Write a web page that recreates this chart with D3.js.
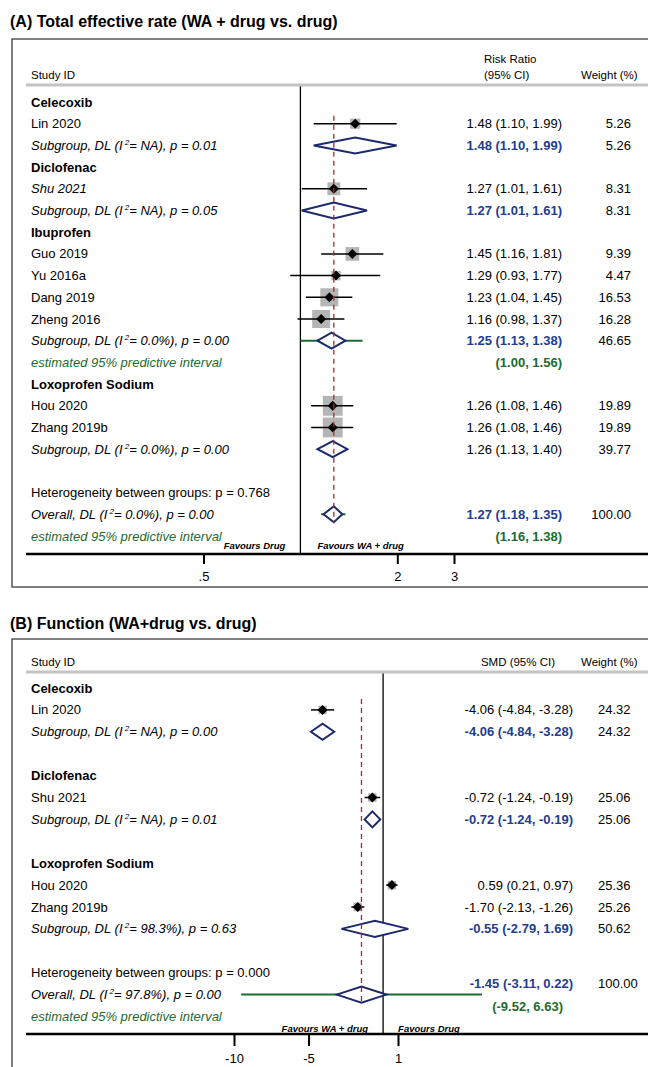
<!DOCTYPE html>
<html>
<head>
<meta charset="utf-8">
<script src="https://cdn.jsdelivr.net/npm/d3@7/dist/d3.min.js"></script>
<style>
  body { margin: 0; background: #fff; }
  svg { display: block; font-family: "Liberation Sans", Arial, Helvetica, sans-serif; }
</style>
</head>
<body>
<script>
// ---------- Panel A: total effective rate (risk ratio, log scale) ----------
const groupsA = ["Celecoxib", "Diclofenac", "Ibuprofen", "Loxoprofen Sodium"];
const studiesA = ["Lin 2020", "Shu 2021", "Guo 2019", "Yu 2016a", "Dang 2019", "Zheng 2016", "Hou 2020", "Zhang 2019b"];
const studyGroupA = [0, 1, 2, 2, 2, 2, 3, 3];
const rrA = [1.48, 1.27, 1.45, 1.29, 1.23, 1.16, 1.26, 1.26];
const rrLowA = [1.10, 1.01, 1.16, 0.93, 1.04, 0.98, 1.08, 1.08];
const rrHighA = [1.99, 1.61, 1.81, 1.77, 1.45, 1.37, 1.46, 1.46];
const weightA = [5.26, 8.31, 9.39, 4.47, 16.53, 16.28, 19.89, 19.89];
const subRrA = [1.48, 1.27, 1.25, 1.26];
const subLowA = [1.10, 1.01, 1.13, 1.13];
const subHighA = [1.99, 1.61, 1.38, 1.40];
const subWeightA = [5.26, 8.31, 46.65, 39.77];
const subI2A = ["NA", "NA", "0.0%", "0.0%"];
const subPA = ["0.01", "0.05", "0.00", "0.00"];
const subPredA = [null, null, [1.00, 1.56], null];
const overallA = { est: 1.27, lo: 1.18, hi: 1.35, w: 100.00, i2: "0.0%", p: "0.00", het: "0.768", pred: [1.16, 1.38] };
const ticksA = [0.5, 2, 3];
const tickLabelsA = [".5", "2", "3"];

// ---------- Panel B: function (standardised mean difference) ----------
const groupsB = ["Celecoxib", "Diclofenac", "Loxoprofen Sodium"];
const studiesB = ["Lin 2020", "Shu 2021", "Hou 2020", "Zhang 2019b"];
const studyGroupB = [0, 1, 2, 2];
const smdB = [-4.06, -0.72, 0.59, -1.70];
const smdLowB = [-4.84, -1.24, 0.21, -2.13];
const smdHighB = [-3.28, -0.19, 0.97, -1.26];
const weightB = [24.32, 25.06, 25.36, 25.26];
const subSmdB = [-4.06, -0.72, -0.55];
const subLowB = [-4.84, -1.24, -2.79];
const subHighB = [-3.28, -0.19, 1.69];
const subWeightB = [24.32, 25.06, 50.62];
const subI2B = ["NA", "NA", "98.3%"];
const subPB = ["0.00", "0.01", "0.63"];
const overallB = { est: -1.45, lo: -3.11, hi: 0.22, w: 100.00, i2: "97.8%", p: "0.00", het: "0.000", pred: [-9.52, 6.63] };
const ticksB = [-10, -5, 1];
const tickLabelsB = ["-10", "-5", "1"];

// ---------- shared styling ----------
const NAVY = "#1c2a6b", BLUE = "#1f3d8f", GREEN = "#1d6b30", RED = "#b0282a";
const BOXGRAY = "#b5b5b5", FRAME = "#555", RULE = "#c4c4c4";
const FS = 13;

const svg = d3.select("body").append("svg").attr("width", 648).attr("height", 1067);

function txt(g, x, y, s, o = {}) {
  return g.append("text")
    .attr("x", x).attr("y", y + (o.size || FS) * 0.35)
    .attr("font-size", o.size || FS)
    .attr("font-weight", o.bold ? "bold" : null)
    .attr("font-style", o.italic ? "italic" : null)
    .attr("text-anchor", o.anchor || "start")
    .attr("fill", o.color || "#000")
    .text(s);
}

function i2Label(g, x, y, prefix, i2, p, o = {}) {
  const t = g.append("text")
    .attr("x", x).attr("y", y + FS * 0.35)
    .attr("font-size", FS).attr("font-style", "italic")
    .attr("fill", o.color || "#000");
  t.append("tspan").text(prefix + " (I");
  t.append("tspan").attr("dy", -5).attr("font-size", 8).text(" 2");
  t.append("tspan").attr("dy", 5).text("= " + i2 + "), p = " + p);
}

function diamond(g, x, est, lo, hi, y, h) {
  g.append("path")
    .attr("d", `M${x(lo)},${y}L${x(est)},${y - h}L${x(hi)},${y}L${x(est)},${y + h}Z`)
    .attr("fill", "#fff").attr("stroke", NAVY).attr("stroke-width", 2);
}

function studyMark(g, x, est, lo, hi, w, y, k) {
  const s = k * Math.sqrt(w);
  g.append("rect").attr("x", x(est) - s / 2).attr("y", y - s / 2)
    .attr("width", s).attr("height", s).attr("fill", BOXGRAY);
  g.append("line").attr("x1", x(lo)).attr("x2", x(hi)).attr("y1", y).attr("y2", y)
    .attr("stroke", "#000").attr("stroke-width", 1.5);
  const d = 5;
  g.append("path")
    .attr("d", `M${x(est) - d},${y}L${x(est)},${y - d}L${x(est) + d},${y}L${x(est)},${y + d}Z`)
    .attr("fill", "#000");
}

// plain hyphen for negatives, two decimals
const f2 = v => v.toFixed(2);
const ciText = (e, l, h) => `${f2(e)} (${f2(l)}, ${f2(h)})`;

// ================= Panel A =================
(function () {
  const g = svg.append("g");
  const x = d3.scaleLog().domain([0.5, 3]).range([203.5, 454]);
  const rowY = i => 102 + i * 21.7;
  const esX = 562, wX = 631, leftX = 31;

  txt(g, 10, 21, "(A) Total effective rate (WA + drug vs. drug)", { size: 16, bold: true });
  g.append("rect").attr("x", 12).attr("y", 39).attr("width", 700).attr("height", 548)
    .attr("fill", "none").attr("stroke", FRAME).attr("stroke-width", 1.5);

  txt(g, leftX, 75, "Study ID", { size: 11.5 });
  txt(g, 484, 59, "Risk Ratio", { size: 11.5 });
  txt(g, 484, 75, "(95% CI)", { size: 11.5 });
  txt(g, 581, 75, "Weight (%)", { size: 11.5 });
  g.append("line").attr("x1", 26).attr("x2", 648).attr("y1", 85).attr("y2", 85)
    .attr("stroke", RULE).attr("stroke-width", 3);

  const marks = g.append("g");
  let r = 0;
  groupsA.forEach((name, gi) => {
    txt(g, leftX, rowY(r++), name, { bold: true });
    studiesA.forEach((s, si) => {
      if (studyGroupA[si] !== gi) return;
      const y = rowY(r++);
      txt(g, leftX, y, s, { italic: s === "Shu 2021" });
      studyMark(marks, x, rrA[si], rrLowA[si], rrHighA[si], weightA[si], y, 4.45);
      txt(g, esX, y, ciText(rrA[si], rrLowA[si], rrHighA[si]), { anchor: "end" });
      txt(g, wX, y, f2(weightA[si]), { anchor: "end" });
    });
    const y = rowY(r++);
    const plain = name === "Loxoprofen Sodium";
    i2Label(g, leftX, y, "Subgroup, DL", subI2A[gi], subPA[gi]);
    if (subPredA[gi]) {
      marks.append("line").attr("x1", x(subPredA[gi][0])).attr("x2", x(subPredA[gi][1]))
        .attr("y1", y).attr("y2", y).attr("stroke", GREEN).attr("stroke-width", 2);
    }
    diamond(marks, x, subRrA[gi], subLowA[gi], subHighA[gi], y, 8);
    txt(g, esX, y, ciText(subRrA[gi], subLowA[gi], subHighA[gi]),
      { anchor: "end", bold: !plain, color: plain ? "#000" : BLUE });
    txt(g, wX, y, f2(subWeightA[gi]), { anchor: "end" });
    if (subPredA[gi]) {
      const yp = rowY(r++);
      txt(g, leftX, yp, "estimated 95% predictive interval", { italic: true, color: GREEN });
      txt(g, esX, yp, `(${f2(subPredA[gi][0])}, ${f2(subPredA[gi][1])})`, { anchor: "end", bold: true, color: GREEN });
    }
  });
  r++;
  txt(g, leftX, rowY(r++), "Heterogeneity between groups: p = " + overallA.het);
  const yo = rowY(r++);
  i2Label(g, leftX, yo, "Overall, DL", overallA.i2, overallA.p);
  marks.append("line").attr("x1", x(overallA.pred[0])).attr("x2", x(overallA.pred[1]))
    .attr("y1", yo).attr("y2", yo).attr("stroke", GREEN).attr("stroke-width", 2);
  diamond(marks, x, overallA.est, overallA.lo, overallA.hi, yo, 8);
  txt(g, esX, yo, ciText(overallA.est, overallA.lo, overallA.hi), { anchor: "end", bold: true, color: BLUE });
  txt(g, wX, yo, f2(overallA.w), { anchor: "end" });
  const yp = rowY(r++);
  txt(g, leftX, yp, "estimated 95% predictive interval", { italic: true, color: GREEN });
  txt(g, esX, yp, `(${f2(overallA.pred[0])}, ${f2(overallA.pred[1])})`, { anchor: "end", bold: true, color: GREEN });

  // null line and pooled-estimate line
  const axisY = 554;
  g.insert("line", ":first-child").attr("x1", x(1)).attr("x2", x(1)).attr("y1", 85).attr("y2", axisY)
    .attr("stroke", "#000").attr("stroke-width", 1.3);
  marks.append("line").attr("x1", x(overallA.est)).attr("x2", x(overallA.est))
    .attr("y1", rowY(1) - 8).attr("y2", yo + 9)
    .attr("stroke", RED).attr("stroke-width", 1.3).attr("stroke-dasharray", "5,4");

  txt(g, x(1) - 15, 546, "Favours Drug", { size: 9.5, bold: true, italic: true, anchor: "end" });
  txt(g, x(1) + 17, 546, "Favours WA + drug", { size: 9.5, bold: true, italic: true });

  g.append("line").attr("x1", 26).attr("x2", 648).attr("y1", axisY).attr("y2", axisY)
    .attr("stroke", "#000").attr("stroke-width", 2.5);
  const ax = g.append("g").attr("transform", `translate(0,${axisY})`)
    .call(d3.axisBottom(x).tickValues(ticksA).tickSize(10).tickPadding(8)
      .tickFormat((d, i) => tickLabelsA[i]));
  ax.select(".domain").remove();
  ax.selectAll(".tick line").attr("stroke-width", 2);
  ax.selectAll("text").attr("font-size", FS).attr("font-family", null).attr("fill", "#000");
})();

// ================= Panel B =================
(function () {
  const g = svg.append("g");
  const x = d3.scaleLinear().domain([-10, 1]).range([234, 398]);
  const rowY = i => 688 + i * 21.9;
  const esX = 573, wX = 598, leftX = 31;

  txt(g, 10, 623, "(B) Function (WA+drug vs. drug)", { size: 16, bold: true });
  g.append("rect").attr("x", 12).attr("y", 639).attr("width", 700).attr("height", 600)
    .attr("fill", "none").attr("stroke", FRAME).attr("stroke-width", 1.5);

  txt(g, leftX, 662, "Study ID", { size: 11.5 });
  txt(g, esX - 18, 662, "SMD (95% CI)", { size: 11.5, anchor: "end" });
  txt(g, 581, 662, "Weight (%)", { size: 11.5 });
  g.append("line").attr("x1", 26).attr("x2", 648).attr("y1", 672).attr("y2", 672)
    .attr("stroke", RULE).attr("stroke-width", 3);

  const marks = g.append("g");
  let r = 0;
  groupsB.forEach((name, gi) => {
    txt(g, leftX, rowY(r++), name, { bold: true });
    studiesB.forEach((s, si) => {
      if (studyGroupB[si] !== gi) return;
      const y = rowY(r++);
      txt(g, leftX, y, s);
      studyMark(marks, x, smdB[si], smdLowB[si], smdHighB[si], weightB[si], y, 1.7);
      txt(g, esX, y, ciText(smdB[si], smdLowB[si], smdHighB[si]), { anchor: "end" });
      txt(g, wX, y, f2(weightB[si]));
    });
    const y = rowY(r++);
    i2Label(g, leftX, y, "Subgroup, DL", subI2B[gi], subPB[gi]);
    diamond(marks, x, subSmdB[gi], subLowB[gi], subHighB[gi], y, 8);
    txt(g, esX, y, ciText(subSmdB[gi], subLowB[gi], subHighB[gi]), { anchor: "end", bold: true, color: BLUE });
    txt(g, wX, y, f2(subWeightB[gi]));
    r++;
  });
  const yh = rowY(r++);
  txt(g, leftX, yh, "Heterogeneity between groups: p = " + overallB.het);
  const yo = rowY(r++);
  i2Label(g, leftX, yo, "Overall, DL", overallB.i2, overallB.p);
  marks.append("line").attr("x1", x(overallB.pred[0])).attr("x2", x(overallB.pred[1]))
    .attr("y1", yo).attr("y2", yo).attr("stroke", GREEN).attr("stroke-width", 2);
  diamond(marks, x, overallB.est, overallB.lo, overallB.hi, yo, 8);
  txt(g, esX, yh + 11, ciText(overallB.est, overallB.lo, overallB.hi), { anchor: "end", bold: true, color: BLUE });
  txt(g, wX, yh + 11, f2(overallB.w));
  const yp = rowY(r++);
  txt(g, leftX, yp, "estimated 95% predictive interval", { italic: true, color: GREEN });
  txt(g, esX - 10, yo + 12, `(${f2(overallB.pred[0])}, ${f2(overallB.pred[1])})`, { anchor: "end", bold: true, color: GREEN });

  const axisY = 1034;
  g.insert("line", ":first-child").attr("x1", x(0)).attr("x2", x(0)).attr("y1", 672).attr("y2", axisY)
    .attr("stroke", "#000").attr("stroke-width", 1.3);
  marks.append("line").attr("x1", x(overallB.est)).attr("x2", x(overallB.est))
    .attr("y1", rowY(1) - 11).attr("y2", yo + 9)
    .attr("stroke", RED).attr("stroke-width", 1.3).attr("stroke-dasharray", "5,4");

  txt(g, x(0) - 15, 1029, "Favours WA + drug", { size: 9.5, bold: true, italic: true, anchor: "end" });
  txt(g, x(0) + 15, 1029, "Favours Drug", { size: 9.5, bold: true, italic: true });

  g.append("line").attr("x1", 26).attr("x2", 648).attr("y1", axisY).attr("y2", axisY)
    .attr("stroke", "#000").attr("stroke-width", 2.5);
  const ax = g.append("g").attr("transform", `translate(0,${axisY})`)
    .call(d3.axisBottom(x).tickValues(ticksB).tickSize(12).tickPadding(8)
      .tickFormat((d, i) => tickLabelsB[i]));
  ax.select(".domain").remove();
  ax.selectAll(".tick line").attr("stroke-width", 2);
  ax.selectAll("text").attr("font-size", FS).attr("font-family", null).attr("fill", "#000");
})();
</script>
</body>
</html>
